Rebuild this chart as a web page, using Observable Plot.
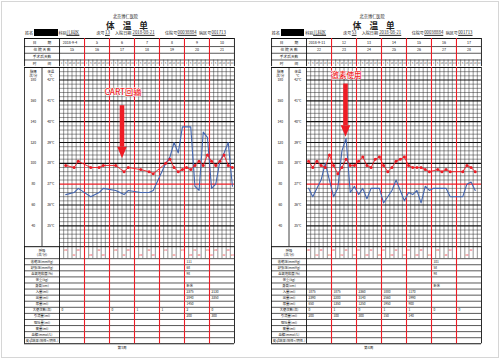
<!DOCTYPE html>
<html>
<head>
<meta charset="utf-8">
<script src="https://cdn.jsdelivr.net/npm/d3@7"></script>
<script src="https://cdn.jsdelivr.net/npm/@observablehq/plot@0.6"></script>
<style>
html,body{margin:0;padding:0;background:#fff;}
#page{position:relative;width:500px;height:359px;overflow:hidden;background:#fff;font-family:"Noto Sans CJK SC","Noto Sans",sans-serif;color:#222;}
.t{position:absolute;white-space:nowrap;line-height:1;}
.u{text-decoration:underline;}
.pw{position:absolute;}
.pw svg{display:block;overflow:visible;max-width:none;}
#frame{position:absolute;left:1px;top:1px;width:496px;height:355px;border:1px solid #d6d6d6;}
</style>
</head>
<body>
<div id="page"><div id="frame"></div></div>
<script>
// ---------------- data ----------------
const hospitalName = "北京博仁医院";
const sheetTitle = "体温单";
const infoLabels = ["姓名", "科别", "床号", "入院日期", "住院号", "病区号"];
const infoValues = ["", "儿科区", "", "2018-08-21", "00038884", "001713"];
const bedNumbers = ["13", "53"];
const weekLabels = ["第3周", "第4周"];
const headerRowLabels = ["日　　　期", "住 院 天 数", "手术后天数", "时　　　间"];
const dates1 = ["2018-9-4", "5", "6", "7", "8", "9", "10"];
const dates2 = ["2018-9-11", "12", "13", "14", "15", "16", "17"];
const hospDays1 = ["15", "16", "17", "18", "19", "20", "21"];
const hospDays2 = ["22", "23", "24", "25", "26", "27", "28"];
const timeTicks = [2, 6, 10, 14, 18, 22];
const tempTicks = [42, 41, 40, 39, 38, 37, 36, 35];
const pulseTicks = [180, 160, 140, 120, 100, 80, 60, 40];
const pulseHeader = ["脉搏", "次/分"];
const tempHeader = ["体温", "℃"];
const respLabel = ["呼吸", "(次/分)"];
const bottomRowLabels = ["收缩压(mmHg)", "舒张压(mmHg)", "血氧饱和度(%)", "体重(kg)", "身高(cm)", "入量(ml)", "出量(ml)", "尿量(ml)", "大便次数(次)", "引流量(ml)", "呕吐量(ml)", "痰量(ml)", "血糖(mmol/L)", "皮试结果(阳性+/阴性-)"];

// week 1 (slot = 4-hour slot index, 0..41)
const tempSlots1 = [1, 3, 4, 7, 9, 10, 13, 15, 16, 19, 21, 22, 25, 26, 27, 28, 29, 30, 31, 32, 33, 34, 35, 36, 37, 38, 39, 40, 41];
const tempVals1  = [37.9, 37.8, 38.1, 37.8, 37.8, 37.9, 37.9, 37.6, 37.8, 37.7, 37.6, 37.5, 38.0, 38.2, 37.8, 37.6, 37.7, 37.8, 37.7, 37.9, 38.1, 37.9, 38.4, 38.1, 37.9, 38.1, 38.4, 37.9, 37.8];
const pulseSlots1 = [1, 3, 4, 7, 9, 10, 13, 15, 16, 19, 21, 22, 25, 26, 27, 28, 29, 30, 31, 32, 33, 34, 35, 36, 37, 38, 39, 40, 41];
const pulseVals1  = [70, 72, 76, 68, 72, 76, 74, 70, 74, 72, 72, 74, 100, 106, 120, 110, 135, 135, 135, 78, 74, 130, 125, 76, 80, 102, 110, 120, 78];
const respSlots1 = [1, 3, 4, 7, 9, 10, 13, 15, 16, 19, 21, 22, 25, 27, 29, 31, 32, 33, 35, 36, 37, 39, 40, 41];
const respVals1  = [20, 22, 20, 20, 22, 20, 20, 22, 20, 20, 22, 20, 22, 24, 22, 20, 22, 20, 24, 22, 20, 22, 20, 22];
const cells1 = [
  ["", "", "", "", "", "111", ""],
  ["", "", "", "", "", "68", ""],
  ["", "", "", "", "", "98", ""],
  ["", "", "", "", "", "", ""],
  ["", "", "", "", "", "卧床", ""],
  ["", "", "", "", "", "2375", "2130"],
  ["", "", "", "", "", "2840", "3350"],
  ["", "", "", "", "", "1450", ""],
  ["0", "", "0", "1", "1", "2", "0"],
  ["", "", "", "", "", "200", "300"]
];

// week 2
const tempSlots2 = [0, 1, 2, 3, 4, 5, 6, 7, 8, 9, 10, 11, 12, 13, 14, 15, 16, 17, 18, 19, 20, 21, 22, 23, 24, 25, 26, 27, 28, 29, 31, 32, 33, 34, 37, 38, 39, 40];
const tempVals2  = [38.1, 37.8, 38.1, 37.9, 37.8, 38.4, 37.9, 37.5, 37.8, 38.2, 37.9, 37.9, 38.1, 38.3, 37.9, 37.8, 38.2, 38.3, 37.9, 37.6, 37.8, 38.1, 38.2, 38.3, 37.9, 37.8, 37.8, 37.8, 37.7, 37.6, 37.7, 37.6, 37.7, 37.6, 37.6, 37.9, 37.8, 37.6];
const pulseSlots2 = [0, 1, 2, 3, 4, 6, 7, 8, 9, 10, 11, 12, 13, 14, 15, 16, 17, 18, 19, 20, 21, 22, 23, 24, 25, 26, 27, 28, 29, 30, 31, 32, 33, 34, 37, 38, 39, 40];
const pulseVals2  = [76, 68, 76, 84, 100, 68, 76, 112, 124, 72, 78, 70, 76, 66, 76, 76, 76, 62, 68, 74, 84, 74, 64, 72, 70, 74, 62, 78, 74, 76, 76, 76, 76, 68, 68, 80, 82, 74];
const respSlots2 = [0, 2, 3, 5, 6, 8, 9, 11, 12, 14, 15, 17, 18, 20, 21, 23, 24, 26, 27, 29, 31, 33, 34, 38, 39];
const respVals2  = [20, 22, 20, 22, 20, 22, 24, 20, 22, 20, 22, 20, 22, 20, 22, 20, 22, 20, 20, 22, 20, 20, 22, 20, 22];
const cells2 = [
  ["", "", "", "", "", "101", ""],
  ["", "", "", "", "", "58", ""],
  ["", "", "", "", "", "98", ""],
  ["", "", "", "", "", "", ""],
  ["", "", "", "", "", "卧床", ""],
  ["1875", "1875", "2360", "1880", "1170", "", ""],
  ["2390", "2200", "3140", "2560", "1990", "", ""],
  ["650", "1350", "1250", "1950", "900", "", ""],
  ["0", "1", "0", "1", "1", "0", "0"],
  ["200", "100", "300", "150", "140", "", ""]
];

// annotations (day position within week, temperature at arrow tip)
const noteLabels = ["CART回输", "激素使用"];
const noteDays = [2.5, 1.56];
const noteTipTemps = [38.24, 39.28];

// ---------------- layout / style ----------------
const RED = "#ee1c25", BLUE = "#4466b0", GRID = "#2a2a2a", INK = "#111";
const FONT = '"Noto Sans CJK SC","Noto Sans",sans-serif';
const XD = [-1.4, 7];
const TW = 210;
const page = document.getElementById("page");
const slotX = s => Math.floor(s / 6) + ((s % 6) + 0.5) / 6;
const slotEdges = d3.range(1, 42).filter(i => i % 6 !== 0).map(i => i / 6);
const dayEdges = [1, 2, 3, 4, 5, 6];
const allSlots = d3.range(42);

function htext(s, x, y, size, o = {}) {
  const d = document.createElement("div");
  d.className = "t" + (o.u ? " u" : "");
  d.textContent = s;
  d.style.left = x + "px";
  d.style.top = y + "px";
  d.style.fontSize = size + "px";
  if (o.weight) d.style.fontWeight = o.weight;
  if (o.ls) d.style.letterSpacing = o.ls + "px";
  d.style.transform = `translate(${o.anchor === "middle" ? "-50%" : "0"},-50%)`;
  page.appendChild(d);
  return d;
}
function mount(el, left, top) {
  const w = document.createElement("div");
  w.className = "pw";
  w.style.left = left + "px";
  w.style.top = top + "px";
  w.appendChild(el);
  page.appendChild(w);
}
function opts(height, ydomain, topDown, marks) {
  return {
    width: TW, height, margin: 0,
    x: {domain: XD, range: [0, TW], axis: null},
    y: {domain: ydomain, range: topDown ? [0, height] : [height, 0], axis: null},
    style: {fontFamily: FONT, overflow: "visible", background: "none"},
    marks
  };
}
const arrowHead = {
  draw(ctx, size) {
    const r = Math.sqrt(size / Math.PI);
    ctx.moveTo(-r, -2.4 * r);
    ctx.lineTo(r, -2.4 * r);
    ctx.lineTo(0, 0);
    ctx.closePath();
  }
};

const panels = [
  {ox: 0, dates: dates1, days: hospDays1, tS: tempSlots1, tV: tempVals1, pS: pulseSlots1, pV: pulseVals1, rS: respSlots1, rV: respVals1, cells: cells1},
  {ox: 246.7, dates: dates2, days: hospDays2, tS: tempSlots2, tV: tempVals2, pS: pulseSlots2, pV: pulseVals2, rS: respSlots2, rV: respVals2, cells: cells2}
];
const labelGaps = [0.62, 0.4];

panels.forEach((p, pi) => {
  const ox = p.ox;
  // page heading
  htext(hospitalName, ox + 125.5, 15.8, 4.2, {anchor: "middle"});
  htext(sheetTitle, ox + 131, 25, 8.6, {anchor: "middle", weight: 700, ls: 8});
  const infoX = [25, 58.5, 96.5, 115, 165, 199];
  const valX = [34, 66.5, 105, 132.5, 177.5, 211.5];
  infoLabels.forEach((l, i) => htext(l, ox + infoX[i], 32.6, 4.1));
  infoValues.forEach((v, i) => { if (i > 0) htext(i === 2 ? bedNumbers[pi] : v, ox + valX[i], 32.4, 4.3, {u: true}); });
  const box = document.createElement("div");
  box.style.cssText = `position:absolute;left:${ox + 34}px;top:28.5px;width:23.5px;height:7.5px;background:#000;`;
  page.appendChild(box);

  const left = ox + 24;
  // header table
  const HH = 28.2;
  const hCenters = [0.6, 1.7, 2.7, 3.7];
  mount(Plot.plot(opts(HH, [0, 4.2], true, [
    Plot.ruleX(slotEdges, {y1: 3.2, y2: 4.2, stroke: GRID, strokeWidth: 0.5}),
    Plot.ruleY([1.2, 2.2, 3.2], {x1: -1.4, x2: 7, stroke: INK, strokeWidth: 0.7}),
    Plot.ruleY([0], {x1: -1.4, x2: 7, stroke: INK, strokeWidth: 1.1}),
    Plot.ruleX(dayEdges, {stroke: RED, strokeWidth: 1.1}),
    Plot.ruleX([-1.4, 0, 7], {stroke: INK, strokeWidth: 0.9}),
    Plot.text(headerRowLabels, {x: -0.7, y: (d, i) => hCenters[i], text: d => d, fontSize: 3.7, fill: INK}),
    Plot.text(p.dates, {x: (d, i) => i + (i === 0 ? 0.42 : 0.5), y: 0.6, text: d => d, fontSize: 3.6, fill: INK}),
    Plot.text(p.days, {x: (d, i) => i + 0.5, y: 1.7, text: d => d, fontSize: 3.6, fill: INK}),
    Plot.text(allSlots, {x: s => slotX(s), y: 3.7, text: s => timeTicks[s % 6], fontSize: 2.3, fill: "#333"})
  ])), left, 38.3);

  // chart grid
  const GH = 179.2;
  const minorY = d3.range(171, 213).filter(i => i % 5 !== 0).map(i => i / 5);
  const temps = p.tS.map((s, i) => ({x: slotX(s), t: p.tV[i]}));
  const pulses = p.pS.map((s, i) => ({x: slotX(s), v: p.pV[i]}));
  const nd = noteDays[pi], tip = noteTipTemps[pi];
  const headBase = tip + 0.56;
  const shaftTop = tip + 2.55;
  const labelT = shaftTop + labelGaps[pi];
  mount(Plot.plot(opts(GH, [34, 42.6], false, [
    Plot.ruleY(minorY, {x1: 0, x2: 7, stroke: GRID, strokeWidth: 0.5}),
    Plot.ruleX(slotEdges, {stroke: GRID, strokeWidth: 0.5}),
    Plot.ruleY(tempTicks.filter(t => t !== 37), {x1: 0, x2: 7, stroke: INK, strokeWidth: 1.1}),
    Plot.ruleY([37], {x1: 0, x2: 7, stroke: RED, strokeWidth: 1.2}),
    Plot.ruleY([42.6, 34], {x1: -1.4, x2: 7, stroke: INK, strokeWidth: 1}),
    Plot.ruleX(dayEdges, {stroke: RED, strokeWidth: 1.1}),
    Plot.ruleX([-1.4, -0.7, 0, 7], {stroke: INK, strokeWidth: 0.8}),
    Plot.text(pulseHeader, {x: -1.05, y: (d, i) => 42.41 - i * 0.19, text: d => d, fontSize: 3.4, fill: INK}),
    Plot.text(tempHeader, {x: -0.35, y: (d, i) => 42.41 - i * 0.19, text: d => d, fontSize: 3.4, fill: INK}),
    Plot.text(tempTicks, {x: -1.05, y: d => d, text: (d, i) => String(pulseTicks[i]), fontSize: 3.4, fill: INK}),
    Plot.text(tempTicks, {x: -0.35, y: d => d, text: d => d + "℃", fontSize: 3.4, fill: INK}),
    Plot.line(pulses, {x: "x", y: d => 38 + (d.v - 100) / 20, stroke: BLUE, strokeWidth: 1.1}),
    Plot.line(temps, {x: "x", y: "t", stroke: RED, strokeWidth: 0.9}),
    Plot.dot(temps, {x: "x", y: "t", r: 1.5, fill: RED}),
    Plot.link([0], {x1: nd, x2: nd, y1: shaftTop, y2: headBase, stroke: RED, strokeWidth: 4.6}),
    Plot.dot([0], {x: nd, y: tip, r: 4.8, symbol: arrowHead, fill: RED}),
    Plot.text([noteLabels[pi]], {x: nd + 0.04, y: labelT, text: d => d, fontSize: pi === 0 ? 8.2 : 7.6, fill: RED, stroke: "white", strokeWidth: 1, fontWeight: 500})
  ])), left, 66.5);

  // bottom table
  const BH = 97.3;
  const resp = p.rS.map((s, i) => ({x: slotX(s), v: p.rV[i], up: i % 2 === 0}));
  const cellData = [];
  p.cells.forEach((row, r) => row.forEach((v, d) => { if (v) cellData.push({r, d, v}); }));
  mount(Plot.plot(opts(BH, [0, 16], true, [
    Plot.ruleX(slotEdges, {y1: 0, y2: 2, stroke: GRID, strokeWidth: 0.5}),
    Plot.ruleY(d3.range(2, 16), {x1: -1.4, x2: 7, stroke: INK, strokeWidth: 0.7}),
    Plot.ruleY([16], {x1: -1.4, x2: 7, stroke: INK, strokeWidth: 1.1}),
    Plot.ruleX(dayEdges, {stroke: RED, strokeWidth: 1.1}),
    Plot.ruleX([-1.4, 0, 7], {stroke: INK, strokeWidth: 0.9}),
    Plot.text(respLabel, {x: -0.7, y: (d, i) => 0.7 + i * 0.65, text: d => d, fontSize: 3.4, fill: INK}),
    Plot.text(bottomRowLabels, {x: -0.7, y: (d, i) => 2.5 + i, text: d => d, fontSize: 3.3, fill: INK}),
    Plot.text(resp, {x: "x", y: d => d.up ? 0.6 : 1.4, text: d => String(d.v), fontSize: 2.6, fill: RED}),
    Plot.text(cellData, {x: d => d.d + 0.08, y: d => 2.5 + d.r, text: "v", fontSize: 3.2, fill: INK, textAnchor: "start"})
  ])), left, 245.7);

  htext(weekLabels[pi], ox + 122, 347.5, 3.6, {anchor: "middle"});
});
</script>
</body>
</html>
